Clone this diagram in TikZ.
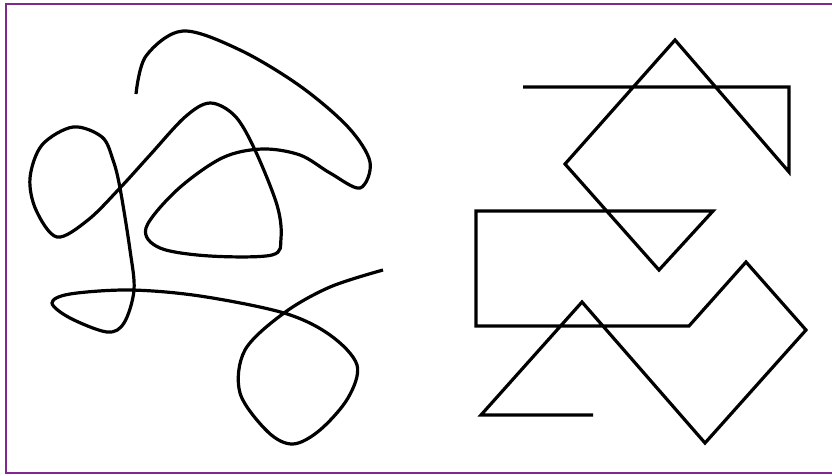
\documentclass[tikz,border=0pt]{standalone}
\definecolor{framepurple}{RGB}{128,40,140}
\tikzset{
  frameline/.style={draw=framepurple, line width=1.8pt},
  inkline/.style={draw=black, line width=3.2pt, line join=miter},
  curveline/.style={draw=black, line width=3.2pt, line cap=butt}
}
\begin{document}
\begin{tikzpicture}[x=1pt,y=-1pt]
\useasboundingbox (0,0) rectangle (832,475);
\draw[frameline] (6,4) rectangle (836,473);
% smooth curve
\draw[curveline] plot[smooth, tension=0.55] coordinates {
 (136,94) (146,56) (183,31) (240,50) (300,86) (348,127) (370,162) (360,188)
 (330,173) (300,155) (262,149) (222,158) (177,190) (146,228) (160,248)
 (210,256) (272,255) (281,238) (277,205) (255,150) (235,116) (210,103)
 (185,117) (150,155) (120,188) (88,220) (57,237) (36,210) (30,178) (42,145)
 (73,127) (102,137) (113,160) (120,188) (130,250) (134,290) (124,323) (107,332)
 (70,318) (52,303) (70,294) (130,290) (200,296) (284,313) (330,335) (357,365)
 (348,398) (320,430) (293,444) (268,432) (240,393) (245,350) (284,313)
 (330,287) (383,270)
};
% polyline
\draw[inkline] (523,87) -- (789,87) -- (789,172) -- (675,40) -- (565,164)
 -- (659,270) -- (713,211) -- (476,211) -- (476,326) -- (689,326)
 -- (746,262) -- (806,330) -- (705,443) -- (582,302) -- (481,415) -- (593,415);
\end{tikzpicture}
\end{document}
